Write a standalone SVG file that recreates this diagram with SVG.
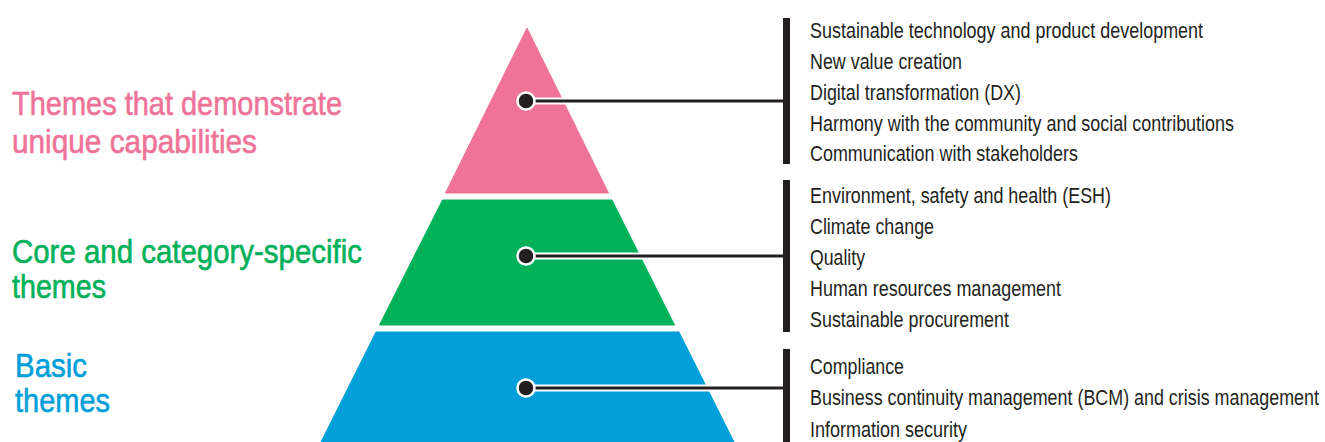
<svg xmlns="http://www.w3.org/2000/svg" width="1325" height="442" viewBox="0 0 1325 442">
<style>
text{font-family:"Liberation Sans Narrow","Liberation Sans",Arial,sans-serif;}
.item{font-size:22px;fill:#231f20;}
.lab{font-size:33px;stroke-width:0.6;}
.pk{fill:#ef7399;stroke:#ef7399;}
.gr{fill:#00b15a;stroke:#00b15a;}
.bl{fill:#009fda;stroke:#009fda;}
polygon{stroke:none;}
.bar{fill:#231f20;}
.halo{stroke:#fff;stroke-width:7;fill:none;}
.ln{stroke:#231f20;stroke-width:3;fill:none;}
.dot{fill:#231f20;stroke:#fff;stroke-width:2.5;}
</style>
<rect width="1325" height="442" fill="#fff"/>
<g id="tier-top">
<polygon class="pk" points="527,28 608.5,193 445.5,193"/>
<text class="lab pk" x="12" y="115" textLength="330" lengthAdjust="spacingAndGlyphs">Themes that demonstrate</text>
<text class="lab pk" x="12" y="153" textLength="245" lengthAdjust="spacingAndGlyphs">unique capabilities</text>
<rect class="bar" x="783" y="18" width="7" height="146"/>
<g transform="translate(810,0) scale(0.82,1)">
<text class="item" x="0" y="38" textLength="479.3" lengthAdjust="spacingAndGlyphs">Sustainable technology and product development</text>
<text class="item" x="0" y="69" textLength="185.4" lengthAdjust="spacingAndGlyphs">New value creation</text>
<text class="item" x="0" y="100" textLength="257.3" lengthAdjust="spacingAndGlyphs">Digital transformation (DX)</text>
<text class="item" x="0" y="131" textLength="517.1" lengthAdjust="spacingAndGlyphs">Harmony with the community and social contributions</text>
<text class="item" x="0" y="161" textLength="326.8" lengthAdjust="spacingAndGlyphs">Communication with stakeholders</text>
</g>
</g>
<g id="tier-middle">
<polygon class="gr" points="442.5,200 612,200 674.5,325 379.5,325"/>
<text class="lab gr" x="12" y="263" textLength="350" lengthAdjust="spacingAndGlyphs">Core and category-specific</text>
<text class="lab gr" x="12" y="298" textLength="94" lengthAdjust="spacingAndGlyphs">themes</text>
<rect class="bar" x="783" y="180" width="7" height="152"/>
<g transform="translate(810,0) scale(0.82,1)">
<text class="item" x="0" y="203" textLength="367.1" lengthAdjust="spacingAndGlyphs">Environment, safety and health (ESH)</text>
<text class="item" x="0" y="234" textLength="151.2" lengthAdjust="spacingAndGlyphs">Climate change</text>
<text class="item" x="0" y="265" textLength="67.1" lengthAdjust="spacingAndGlyphs">Quality</text>
<text class="item" x="0" y="296" textLength="306.1" lengthAdjust="spacingAndGlyphs">Human resources management</text>
<text class="item" x="0" y="327" textLength="242.7" lengthAdjust="spacingAndGlyphs">Sustainable procurement</text>
</g>
</g>
<g id="tier-base">
<polygon class="bl" points="376,332 679,332 734,442 321,442"/>
<text class="lab bl" x="15" y="377" textLength="72" lengthAdjust="spacingAndGlyphs">Basic</text>
<text class="lab bl" x="15" y="412" textLength="95" lengthAdjust="spacingAndGlyphs">themes</text>
<rect class="bar" x="783" y="349" width="7" height="93"/>
<g transform="translate(810,0) scale(0.82,1)">
<text class="item" x="0" y="374" textLength="114.6" lengthAdjust="spacingAndGlyphs">Compliance</text>
<text class="item" x="0" y="405" textLength="620.7" lengthAdjust="spacingAndGlyphs">Business continuity management (BCM) and crisis management</text>
<text class="item" x="0" y="437" textLength="191.5" lengthAdjust="spacingAndGlyphs">Information security</text>
</g>
</g>
<g id="connectors">
<line class="halo" x1="526" y1="101" x2="783" y2="101"/>
<line class="ln" x1="526" y1="101" x2="784" y2="101"/>
<circle class="dot" cx="526" cy="101" r="8.5"/>
<line class="halo" x1="526" y1="256" x2="783" y2="256"/>
<line class="ln" x1="526" y1="256" x2="784" y2="256"/>
<circle class="dot" cx="526" cy="256" r="8.5"/>
<line class="halo" x1="526" y1="388" x2="783" y2="388"/>
<line class="ln" x1="526" y1="388" x2="784" y2="388"/>
<circle class="dot" cx="526" cy="388" r="8.5"/>
</g>
</svg>
